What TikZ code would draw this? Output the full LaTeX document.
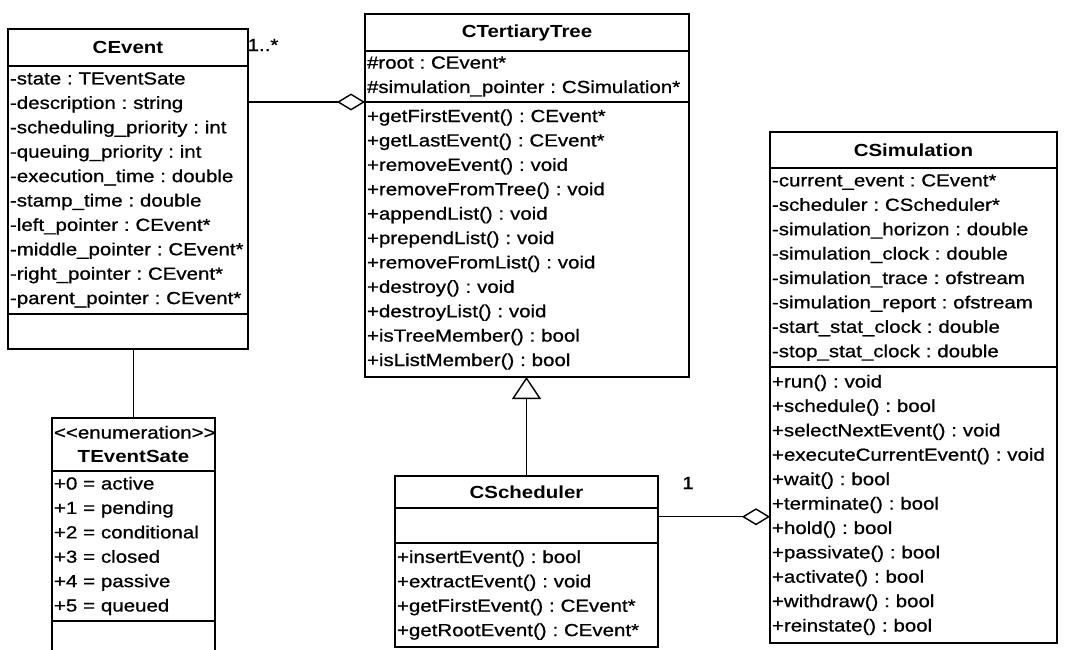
\documentclass[tikz,border=0pt]{standalone}
\usepackage{fontspec}
\setmainfont{Liberation Sans}[FakeStretch=1.17,UprightFeatures={FakeBold=0.8}]
\usetikzlibrary{positioning,arrows.meta,calc}
\frenchspacing
\hyphenpenalty=10000

\begin{document}
\begin{tikzpicture}[x=1pt,y=-1pt,node distance=0pt,
    every node/.style={font=\fontsize{17.5}{24.4}\selectfont},
    clshead/.style={draw,line width=1.4pt,outer sep=0pt,align=center,inner xsep=2pt,inner ysep=0pt,
        font=\fontsize{17.5}{24.4}\selectfont\bfseries},
    clspart/.style={draw,line width=1.4pt,outer sep=0pt,align=left,inner xsep=2pt,inner ysep=0pt},
    assoc/.style={line width=1.2pt},
    agg/.style={assoc,-{Diamond[open,length=28pt,width=17pt,line width=1.4pt]}},
    inherit/.style={assoc,-{Triangle[open,length=22pt,width=29pt,line width=1.4pt]}},
    mult/.style={inner sep=0pt}]
  \clip (0,0) rectangle (1065,650);

  % CEvent
  \node[clshead,text width=236pt,minimum height=37pt,anchor=north west] (ev-t) at (8,29) {CEvent};
  \node[clspart,text width=236pt,minimum height=248pt,below=of ev-t] (ev-a)
    {-state : TEventSate\\-description : string\\-scheduling\_priority : int\\-queuing\_priority : int\\
     -execution\_time : double\\-stamp\_time : double\\-left\_pointer : CEvent*\\-middle\_pointer : CEvent*\\
     -right\_pointer : CEvent*\\-parent\_pointer : CEvent*};
  \node[clspart,text width=236pt,minimum height=35pt,below=of ev-a] (ev-m) {};

  % TEventSate
  \node[clshead,text width=159pt,minimum height=53pt,anchor=north west] (st-t) at (52,418)
    {{\mdseries <\kern0pt<enumeration>\kern0pt>}\\TEventSate};
  \node[clspart,text width=159pt,minimum height=150pt,below=of st-t] (st-a)
    {+0 = active\\+1 = pending\\+2 = conditional\\+3 = closed\\+4 = passive\\+5 = queued};
  \node[clspart,text width=159pt,minimum height=60pt,below=of st-a] (st-m) {};

  % CTertiaryTree
  \node[clshead,text width=320pt,minimum height=37pt,anchor=north west] (tr-t) at (365,14) {CTertiaryTree};
  \node[clspart,text width=320pt,minimum height=51pt,below=of tr-t] (tr-a)
    {\#root : CEvent*\\\#simulation\_pointer : CSimulation*};
  \node[clspart,text width=320pt,minimum height=275pt,below=of tr-a] (tr-m)
    {+getFirstEvent() : CEvent*\\+getLastEvent() : CEvent*\\+removeEvent() : void\\+removeFromTree() : void\\
     +appendList() : void\\+prependList() : void\\+removeFromList() : void\\+destroy() : void\\
     +destroyList() : void\\+isTreeMember() : bool\\+isListMember() : bool};

  % CScheduler
  \node[clshead,text width=259pt,minimum height=32pt,anchor=north west] (sc-t) at (395,476) {CScheduler};
  \node[clspart,text width=259pt,minimum height=35pt,below=of sc-t] (sc-a) {};
  \node[clspart,text width=259pt,minimum height=104pt,below=of sc-a] (sc-m)
    {+insertEvent() : bool\\+extractEvent() : void\\+getFirstEvent() : CEvent*\\+getRootEvent() : CEvent*};

  % CSimulation
  \node[clshead,text width=283pt,minimum height=36pt,anchor=north west] (si-t) at (770,132) {CSimulation};
  \node[clspart,text width=283pt,minimum height=199pt,below=of si-t] (si-a)
    {-current\_event : CEvent*\\-scheduler : CScheduler*\\-simulation\_horizon : double\\
     -simulation\_clock : double\\-simulation\_trace : ofstream\\-simulation\_report : ofstream\\
     -start\_stat\_clock : double\\-stop\_stat\_clock : double};
  \node[clspart,text width=283pt,minimum height=276pt,below=of si-a] (si-m)
    {+run() : void\\+schedule() : bool\\+selectNextEvent() : void\\+executeCurrentEvent() : void\\
     +wait() : bool\\+terminate() : bool\\+hold() : bool\\+passivate() : bool\\+activate() : bool\\
     +withdraw() : bool\\+reinstate() : bool};

  % relations
  \coordinate (scj) at ($(sc-a.north east)!.25!(sc-a.south east)$);
  \path[assoc] (st-t.north) edge (st-t.north |- ev-m.south);
  \path[agg] (ev-a.east |- tr-a.south) edge (tr-a.south west)
             (scj) edge (scj -| si-m.west);
  \path[inherit] (sc-t.north) edge (sc-t.north |- tr-m.south);

  \node[mult] (mul-ev) at (263,45) {1..*};
  \node[mult] (mul-sc) at (688,483) {1};
\end{tikzpicture}
\end{document}
